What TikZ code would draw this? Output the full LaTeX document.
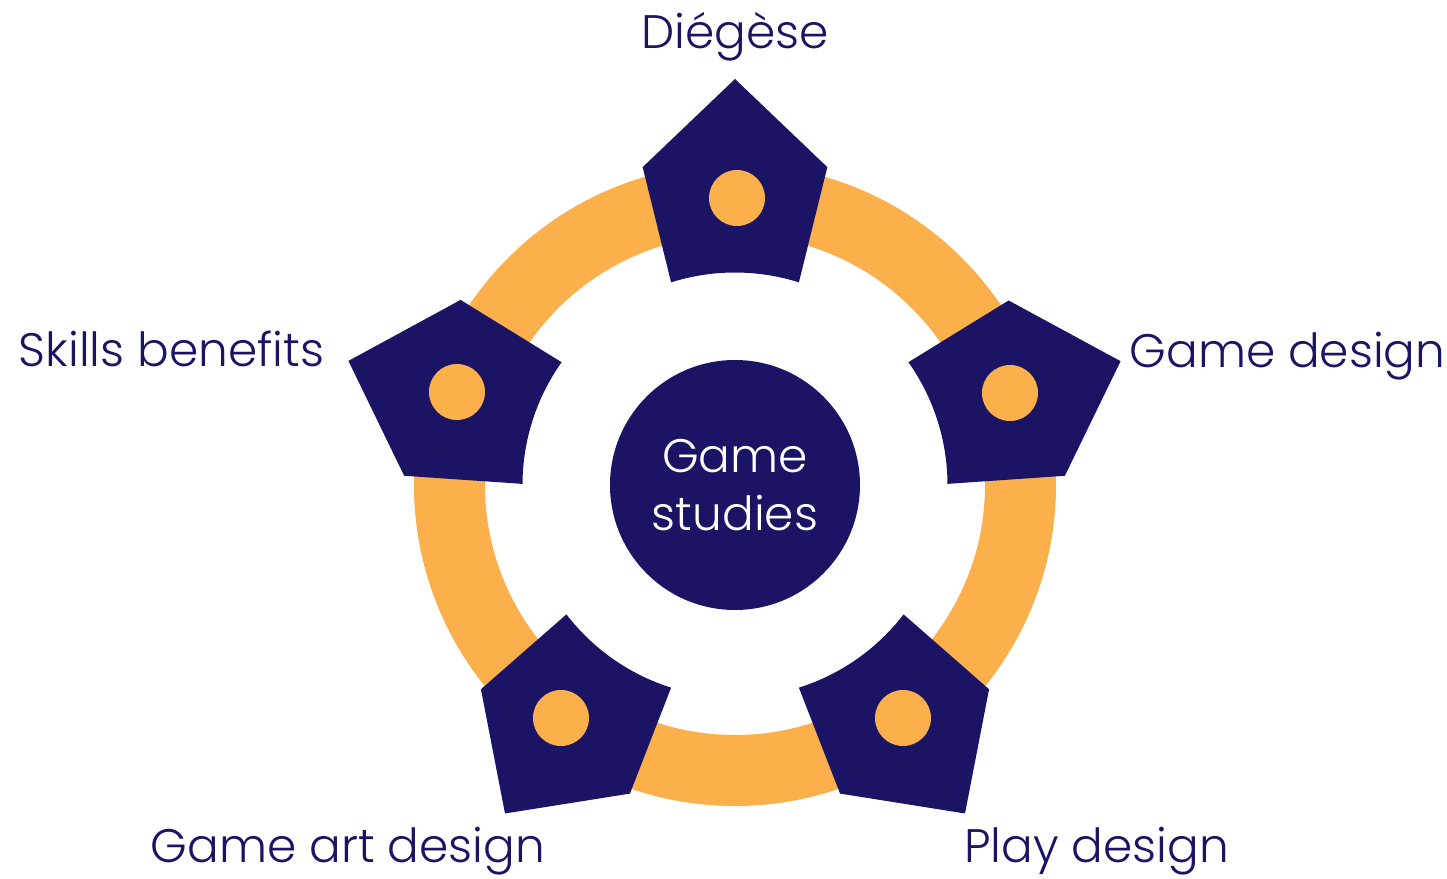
\documentclass[tikz,border=0pt]{standalone}
\usepackage{fontspec}
\setmainfont{Poppins Light}
\definecolor{navy}{HTML}{1B1464}
\definecolor{gold}{HTML}{FBB04B}
\begin{document}
\begin{tikzpicture}[x=1pt,y=1pt,
  lbl/.style={text=navy,font=\fontsize{47}{58}\selectfont,anchor=base,inner sep=0pt},
  ctr/.style={text=white,font=\fontsize{47}{58}\selectfont,anchor=base,inner sep=0pt},
  dot/.style={circle,fill=gold,minimum size=56pt,inner sep=0pt}]
\useasboundingbox (-735,-393) rectangle (712,485);
\fill[white] (-735,-393) rectangle (712,485);
% ring
\draw[gold,line width=71pt] (0,0) circle[radius=285.5];
% pentagons
\foreach \t/\r in {90/406,17.8/405,-55/401,-125/401,162.2/406}{
  \fill[navy] (\t:\r) -- (\t+16.2:\r-75) -- (\t+17.5:212.5)
     arc[start angle=\t+17.5,end angle=\t-17.5,radius=212.5]
     -- (\t-16.2:\r-75) -- cycle;
}
\node[dot] (p1) at (2,287) {};
\node[dot] (p2) at (275,92) {};
\node[dot] (p3) at (168,-233) {};
\node[dot] (p4) at (-174,-233) {};
\node[dot] (p5) at (-278,93) {};
% centre
\node[circle,fill=navy,minimum size=250pt,inner sep=0pt] (c) at (0,0) {};
\node[ctr] (c1) at (0,13) {Game};
\node[ctr] (c2) at (0,-45) {studies};
% labels
\node[lbl] (l1) at (0,436) {Diégèse};
\node[lbl] (l2) at (552.5,117) {Game design};
\node[lbl] (l3) at (-563.5,118) {Skills benefits};
\node[lbl] (l4) at (-387,-377) {Game art design};
\node[lbl] (l5) at (361.5,-377) {Play design};
\end{tikzpicture}
\end{document}
